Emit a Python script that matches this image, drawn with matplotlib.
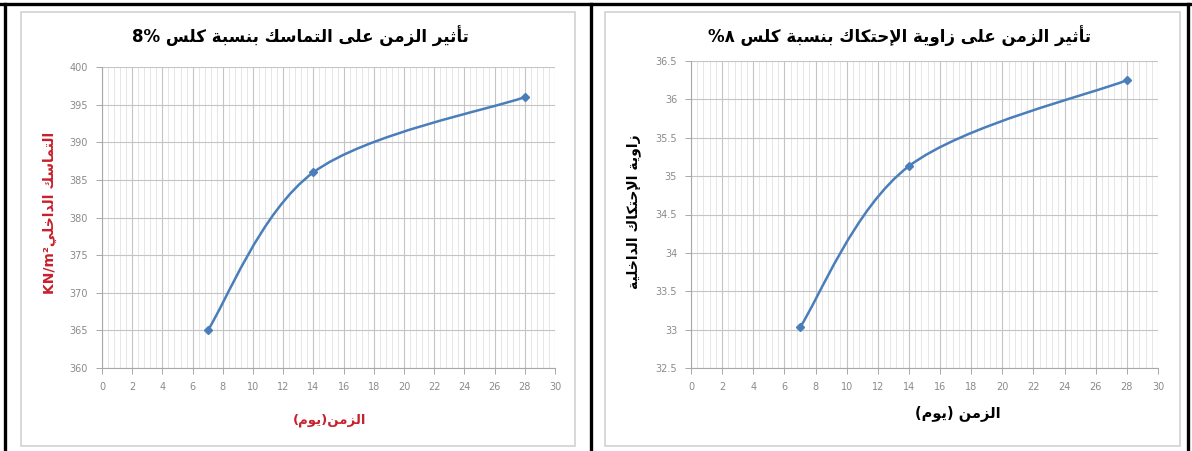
import numpy as np
import matplotlib
matplotlib.use('Agg')
import matplotlib.pyplot as plt
from matplotlib.path import Path
from matplotlib.patches import PathPatch, Rectangle
from matplotlib.lines import Line2D
from matplotlib.ticker import MultipleLocator, FixedLocator, FuncFormatter

# curing time (days) and measured values at 8% lime
days = [7, 14, 28]
cohesion = [365, 386, 396]          # KN/m2
friction = [33.03, 35.13, 36.25]    # degrees

x_ticks = list(range(0, 31, 2))
cohesion_ticks = [360, 365, 370, 375, 380, 385, 390, 395, 400]
friction_ticks = [32.5, 33, 33.5, 34, 34.5, 35, 35.5, 36, 36.5]

title_cohesion = 'تأثير الزمن على التماسك بنسبة كلس 8%'
title_friction = 'تأثير الزمن على زاوية الإحتكاك بنسبة كلس ٨%'
ylabel_cohesion = 'التماسك الداخلي'
unit_cohesion = 'KN/m²'
ylabel_friction = 'زاوية الإحتكاك الداخلية'
xlabel_cohesion = 'الزمن(يوم)'
xlabel_friction = 'الزمن (يوم)'

W, H = 1192, 451
BLUE = '#4A7EBB'
RED = '#C8202C'

# arabic presentation forms: isolated, final, initial, medial
FORMS = {
    'ا': '\ufe8d\ufe8e', 'أ': '\ufe83\ufe84', 'إ': '\ufe87\ufe88', 'آ': '\ufe81\ufe82',
    'ب': '\ufe8f\ufe90\ufe91\ufe92', 'ة': '\ufe93\ufe94',
    'ت': '\ufe95\ufe96\ufe97\ufe98', 'ث': '\ufe99\ufe9a\ufe9b\ufe9c',
    'ح': '\ufea1\ufea2\ufea3\ufea4', 'خ': '\ufea5\ufea6\ufea7\ufea8',
    'د': '\ufea9\ufeaa', 'ر': '\ufead\ufeae', 'ز': '\ufeaf\ufeb0',
    'س': '\ufeb1\ufeb2\ufeb3\ufeb4', 'ع': '\ufec9\ufeca\ufecb\ufecc',
    'ك': '\ufed9\ufeda\ufedb\ufedc', 'ل': '\ufedd\ufede\ufedf\ufee0',
    'م': '\ufee1\ufee2\ufee3\ufee4', 'ن': '\ufee5\ufee6\ufee7\ufee8',
    'ه': '\ufee9\ufeea\ufeeb\ufeec', 'و': '\ufeed\ufeee', 'ى': '\ufeef\ufef0',
    'ي': '\ufef1\ufef2\ufef3\ufef4',
    'لآ': '\ufef5\ufef6', 'لأ': '\ufef7\ufef8', 'لإ': '\ufef9\ufefa', 'لا': '\ufefb\ufefc',
}
MIRROR = {'(': ')', ')': '('}


def shape(text):
	"""join arabic letters using presentation forms"""
	tokens = []
	i = 0
	while i < len(text):
		if len(text[i:i + 2]) == 2 and text[i:i + 2] in FORMS:
			tokens.append(text[i:i + 2])
			i += 2
		else:
			tokens.append(text[i])
			i += 1
	out = []
	for k, t in enumerate(tokens):
		if t not in FORMS:
			out.append(t)
			continue
		forms = FORMS[t]
		prev = tokens[k - 1] if k > 0 else ''
		nxt = tokens[k + 1] if k + 1 < len(tokens) else ''
		after = prev in FORMS and len(FORMS[prev]) == 4
		before = len(forms) == 4 and nxt in FORMS
		if after and before:
			out.append(forms[3])
		elif after:
			out.append(forms[1])
		elif before:
			out.append(forms[2])
		else:
			out.append(forms[0])
	return out


def rtl(text):
	"""visual order of a right-to-left string, latin runs kept as they are"""
	runs = []
	for c in shape(text):
		ltr = (c.isascii() and (c.isalnum() or c in '%/.')) or c == '²'
		if runs and runs[-1][0] == ltr:
			runs[-1][1].append(c)
		else:
			runs.append((ltr, [c]))
	out = ''
	for ltr, cs in reversed(runs):
		if ltr:
			out += ''.join(cs)
		else:
			out += ''.join(MIRROR.get(c, c) for c in reversed(cs))
	return out


def smooth_path(xs, ys):
	"""smoothed line through the points (cubic bezier, tension 1/6)"""
	pts = np.column_stack([xs, ys]).astype(float)
	n = len(pts)
	verts = [pts[0]]
	codes = [Path.MOVETO]
	for i in range(n - 1):
		p0, p1, p2, p3 = pts[max(i - 1, 0)], pts[i], pts[i + 1], pts[min(i + 2, n - 1)]
		verts += [p1 + (p2 - p0) / 6, p2 - (p3 - p1) / 6, p2]
		codes += [Path.CURVE4] * 3
	return Path(verts, codes)


def fx(px):
	return px / W


def fy(py):
	return 1 - py / H


def panel(fig, box, xs, ys, yticks):
	left, top, right, bottom = box
	ax = fig.add_axes([fx(left), fy(bottom), fx(right) - fx(left), fy(top) - fy(bottom)])
	ax.set_xlim(0, 30)
	ax.set_ylim(yticks[0], yticks[-1])
	ax.xaxis.set_major_locator(FixedLocator(x_ticks))
	ax.xaxis.set_minor_locator(MultipleLocator(0.4))
	ax.yaxis.set_major_locator(FixedLocator(yticks))
	ax.yaxis.set_major_formatter(FuncFormatter(lambda v, p: '{:g}'.format(v)))
	ax.grid(which='major', color='#C4C4C4', lw=0.8)
	ax.grid(which='minor', axis='x', color='#E2E2E2', lw=0.6)
	ax.set_axisbelow(True)
	for s in ['top', 'right']:
		ax.spines[s].set_visible(False)
	for s in ['left', 'bottom']:
		ax.spines[s].set_color('#A8A8A8')
		ax.spines[s].set_linewidth(0.8)
	ax.tick_params(which='major', direction='out', length=4, width=0.7, color='#A8A8A8',
		labelsize=7, labelcolor='#8A8A8A', pad=6)
	ax.tick_params(which='minor', length=0)
	ax.add_patch(PathPatch(smooth_path(xs, ys), fill=False, ec=BLUE, lw=1.8, zorder=3))
	ax.plot(xs, ys, 'D', color=BLUE, ms=4.5, zorder=4, clip_on=False)
	return ax


plt.rcParams['font.family'] = ['DejaVu Sans']
fig = plt.figure(figsize=(W / 100, H / 100), dpi=100)
fig.patch.set_facecolor('white')

# chart frames
for l, r in [(21, 575), (605, 1180)]:
	fig.add_artist(Rectangle((fx(l), fy(446)), fx(r) - fx(l), fy(12) - fy(446),
		transform=fig.transFigure, fill=False, ec='#D2D2D2', lw=1.2))

# table borders
black = dict(color='black', lw=2.4, transform=fig.transFigure)
fig.add_artist(Line2D([0, 1], [fy(4), fy(4)], **black))
for px in [5, 591, 1188]:
	fig.add_artist(Line2D([fx(px), fx(px)], [0, fy(4)], **black))

panel(fig, (102, 67, 555, 368), days, cohesion, cohesion_ticks)
panel(fig, (691, 61, 1158, 368), days, friction, friction_ticks)

fig.text(fx(300), fy(36), rtl(title_cohesion), ha='center', va='center', fontsize=12, fontweight='bold')
fig.text(fx(900), fy(36), rtl(title_friction), ha='center', va='center', fontsize=12, fontweight='bold')

fig.text(fx(50), fy(213), unit_cohesion + rtl(ylabel_cohesion), rotation=90, ha='center', va='center',
	fontsize=10, fontweight='bold', color=RED)
fig.text(fx(634), fy(212), rtl(ylabel_friction), rotation=90, ha='center', va='center',
	fontsize=10, fontweight='bold')

fig.text(fx(330), fy(420), rtl(xlabel_cohesion), ha='center', va='center', fontsize=9.5,
	fontweight='bold', color=RED)
fig.text(fx(958), fy(413), rtl(xlabel_friction), ha='center', va='center', fontsize=10.5,
	fontweight='bold')

fig.savefig('out.png', dpi=100)
